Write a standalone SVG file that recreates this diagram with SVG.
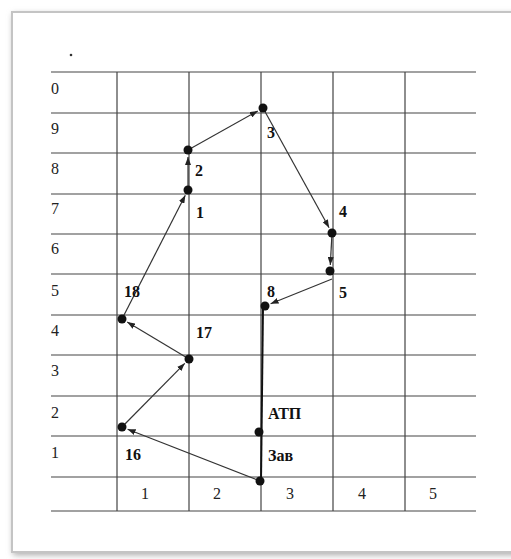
<svg xmlns="http://www.w3.org/2000/svg" width="511" height="559" viewBox="0 0 511 559">
<defs>
<filter id="sh" x="-5%" y="-5%" width="110%" height="110%"><feGaussianBlur stdDeviation="3"/></filter>
<marker id="ah" markerUnits="userSpaceOnUse" markerWidth="8" markerHeight="6" refX="8" refY="3" orient="auto"><path d="M0,0 L8,3 L0,6 z" fill="#222"/></marker>
</defs>
<style>
.grid{stroke:#444;stroke-width:1.2;fill:none}
.ax{font-family:"Liberation Serif","Times New Roman",serif;font-size:16px;fill:#222}
.lb{font-family:"Liberation Serif","Times New Roman",serif;font-size:16px;font-weight:bold;fill:#111}
.con{stroke:#333;stroke-width:1.2;fill:none;marker-end:url(#ah)}
.pt{fill:#111}
</style>
<rect width="511" height="559" fill="#fff"/>
<rect x="13" y="14" width="505" height="541" fill="#aaa" filter="url(#sh)"/>
<rect x="12" y="12" width="505" height="540" fill="#fff" stroke="#c4c4c4" stroke-width="2"/>
<circle cx="71" cy="55" r="1.3" fill="#333"/>
<g id="grid">
<path class="grid" d="M51,72H476M51,113H476M51,153H476M51,194H476M51,234H476M51,274H476M51,315H476M51,355H476M51,396H476M51,436H476M51,477H476M51,511H476"/>
<path class="grid" d="M117,72V511M189,72V511M261,72V511M333,72V511M405,72V511"/>
</g>
<g id="axis-labels">
<text class="ax" x="51" y="94">0</text>
<text class="ax" x="51" y="134">9</text>
<text class="ax" x="51" y="174">8</text>
<text class="ax" x="51" y="214">7</text>
<text class="ax" x="51" y="254">6</text>
<text class="ax" x="51" y="296">5</text>
<text class="ax" x="51" y="336">4</text>
<text class="ax" x="51" y="376">3</text>
<text class="ax" x="51" y="418">2</text>
<text class="ax" x="51" y="458">1</text>
<text class="ax" x="141" y="499">1</text>
<text class="ax" x="213" y="499">2</text>
<text class="ax" x="286" y="499">3</text>
<text class="ax" x="358" y="499">4</text>
<text class="ax" x="429" y="499">5</text>
</g>
<g id="connectors">
<line class="con" x1="188" y1="186" x2="188" y2="157"/>
<line class="con" x1="188" y1="150" x2="257.8" y2="110.9"/>
<line class="con" x1="263" y1="108" x2="329.1" y2="227.7"/>
<line class="con" x1="332" y1="233" x2="330.3" y2="265"/>
<line class="con" x1="332" y1="279" x2="270.6" y2="303.8"/>
<line x1="263" y1="306" x2="261" y2="481" stroke="#111" stroke-width="2"/>
<line class="con" x1="260" y1="481" x2="127.6" y2="429.2"/>
<line class="con" x1="122" y1="427" x2="184.8" y2="363.3"/>
<line class="con" x1="189" y1="359" x2="127.2" y2="322.1"/>
<line class="con" x1="122" y1="319" x2="185.3" y2="195.3"/>
</g>
<g id="p1"><circle class="pt" cx="188" cy="190" r="4.5"/><text class="lb" x="196" y="218">1</text></g>
<g id="p2"><circle class="pt" cx="188" cy="150" r="4.5"/><text class="lb" x="195" y="176">2</text></g>
<g id="p3"><circle class="pt" cx="263" cy="108" r="4.5"/><text class="lb" x="267" y="138">3</text></g>
<g id="p4"><circle class="pt" cx="332" cy="233" r="4.5"/><text class="lb" x="339" y="217">4</text></g>
<g id="p5"><circle class="pt" cx="330" cy="271" r="4.5"/><text class="lb" x="339" y="298">5</text></g>
<g id="p8"><circle class="pt" cx="265" cy="306" r="4.5"/><text class="lb" x="267" y="297">8</text></g>
<g id="p18"><circle class="pt" cx="122" cy="319" r="4.5"/><text class="lb" x="124" y="297">18</text></g>
<g id="p17"><circle class="pt" cx="189" cy="359" r="4.5"/><text class="lb" x="196" y="338">17</text></g>
<g id="p16"><circle class="pt" cx="122" cy="427" r="4.5"/><text class="lb" x="125" y="460">16</text></g>
<g id="atp"><circle class="pt" cx="259" cy="432" r="4.5"/><text class="lb" x="268" y="419">АТП</text></g>
<g id="zav"><circle class="pt" cx="260" cy="481" r="4.5"/><text class="lb" x="268" y="461">Зав</text></g>
</svg>
